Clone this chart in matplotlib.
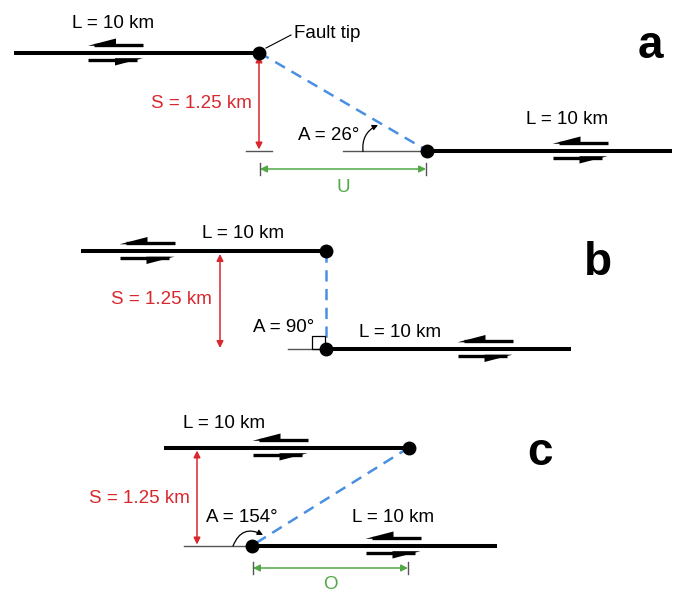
import matplotlib
matplotlib.use("Agg")
import matplotlib.pyplot as plt
from matplotlib.patches import Polygon, Rectangle, FancyArrowPatch

plt.rcParams['font.family'] = ['Liberation Sans', 'DejaVu Sans']

# ---- quantities shown in the three step-over configurations ----
panel_ids = ['a', 'b', 'c']
fault_length_km = [10, 10, 10]
separation_km = [1.25, 1.25, 1.25]
angle_deg = [26, 90, 154]
offset_names = ['U', '', 'O']

# ---- drawing scales (schematic, pixels) ----
PX_PER_KM_ALONG = 24.5     # along-strike scale for fault length
PX_PER_KM_ACROSS = 78.4    # exaggerated across-strike scale for separation

# layout of each panel: upper fault tip, horizontal offset to lower tip, etc.
layout = {
    'a': dict(tip=(259, 52.5), dx=168, s_x=259, s_tick=(246, 272),
              ref=(343, None), slip_up=115.5, slip_lo=580,
              lab_up=(113, 28), lab_lo=(567, 124), s_lab=(252, 108),
              a_lab=(298, 140), letter=(650, 58), off_y=169, off_lab_y=192),
    'b': dict(tip=(326, 251), dx=0, s_x=220, s_tick=None,
              ref=(288, None), slip_up=147, slip_lo=485,
              lab_up=(243, 238), lab_lo=(400, 337), s_lab=(212, 304),
              a_lab=(253, 332), letter=(598, 275), off_y=None, off_lab_y=None),
    'c': dict(tip=(409, 447.5), dx=-157, s_x=197, s_tick=None,
              ref=(184, None), slip_up=280, slip_lo=393,
              lab_up=(224, 428), lab_lo=(393, 522), s_lab=(190, 503),
              a_lab=(206, 522), letter=(540, 465), off_y=568, off_lab_y=589),
}

RED = '#d9272e'
GREEN = '#52a846'
BLUE = '#4a90e2'
GRAY = '#555555'
FS = 13.5

fig = plt.figure(figsize=(6.78, 5.92), dpi=100)
ax = fig.add_axes([0, 0, 1, 1])
ax.set_xlim(0, 678)
ax.set_ylim(592, 0)
ax.axis('off')


def slip_pair(xc, y):
    """Left-lateral half-arrows drawn above and below a fault trace."""
    half = 27.5
    head = 28
    yu, yl = y - 8, y + 7
    ax.plot([xc - half + 6, xc + half], [yu, yu], color='black', lw=2.4,
            solid_capstyle='butt', zorder=3)
    ax.add_patch(Polygon([(xc - half, yu + 1.3), (xc - half + head, yu - 6),
                          (xc - half + head, yu + 1.3)], closed=True,
                         fc='black', ec='none', zorder=3))
    ax.plot([xc - half, xc + half - 6], [yl, yl], color='black', lw=2.4,
            solid_capstyle='butt', zorder=3)
    ax.add_patch(Polygon([(xc + half, yl - 1.3), (xc + half - head, yl + 6),
                          (xc + half - head, yl - 1.3)], closed=True,
                         fc='black', ec='none', zorder=3))


for pid, L, S, A, off in zip(panel_ids, fault_length_km, separation_km,
                             angle_deg, offset_names):
    g = layout[pid]
    x1, y1 = g['tip']
    length_px = L * PX_PER_KM_ALONG
    sep_px = S * PX_PER_KM_ACROSS
    x2, y2 = x1 + g['dx'], y1 + sep_px

    # fault traces
    ax.plot([x1 - length_px, x1], [y1, y1], color='black', lw=2.9,
            solid_capstyle='butt', zorder=2)
    ax.plot([x2, x2 + length_px], [y2, y2], color='black', lw=2.9,
            solid_capstyle='butt', zorder=2)

    # reference line at lower level
    ax.plot([g['ref'][0], x2], [y2, y2], color=GRAY, lw=1.0, zorder=1)
    if g['s_tick'] is not None:
        ax.plot(g['s_tick'], [y2, y2], color=GRAY, lw=1.0, zorder=1)

    # tip-to-tip link
    ax.plot([x1, x2], [y1, y2], color=BLUE, lw=1.8, ls=(0, (4.5, 3)),
            zorder=1)

    # fault tips
    ax.plot([x1, x2], [y1, y2], 'o', color='black', ms=9, zorder=4)

    # slip sense
    slip_pair(g['slip_up'], y1)
    slip_pair(g['slip_lo'], y2)

    # length labels
    ax.text(*g['lab_up'], f'L = {L:g} km', fontsize=FS, ha='center',
            va='baseline')
    ax.text(*g['lab_lo'], f'L = {L:g} km', fontsize=FS, ha='center',
            va='baseline')

    # separation
    ax.add_patch(FancyArrowPatch((g['s_x'], y1 + 3), (g['s_x'], y2 - 1),
                                 arrowstyle='<|-|>', mutation_scale=10,
                                 color=RED, lw=1.1, shrinkA=0, shrinkB=0,
                                 zorder=2))
    ax.text(*g['s_lab'], f'S = {S:g} km', fontsize=FS, color=RED,
            ha='right', va='baseline')

    # angle annotation
    ax.text(*g['a_lab'], f'A = {A:g}°', fontsize=FS, ha='left',
            va='baseline')

    # panel letter
    ax.text(*g['letter'], pid, fontsize=33, fontweight='bold', ha='center',
            va='baseline')

    # along-strike offset between tips
    if off:
        oy = g['off_y']
        xa, xb = min(x1, x2), max(x1, x2)
        ax.add_patch(FancyArrowPatch((xa + 1, oy), (xb - 1, oy),
                                     arrowstyle='<|-|>', mutation_scale=10,
                                     color=GREEN, lw=1.1, shrinkA=0,
                                     shrinkB=0, zorder=2))
        for xt in (xa + 1, xb - 1):
            ax.plot([xt, xt], [oy - 6.5, oy + 6], color=GRAY, lw=1.0,
                    zorder=2)
        ax.text((xa + xb) / 2, g['off_lab_y'], off, fontsize=FS,
                color=GREEN, ha='center', va='baseline')

# angle marks
ax.add_patch(FancyArrowPatch((363, 151.5), (378, 125),
                             connectionstyle='arc3,rad=-0.35',
                             arrowstyle='-|>', mutation_scale=8,
                             color='black', lw=0.9, shrinkA=0, shrinkB=0))
ax.add_patch(Rectangle((312, 336), 13, 13, fill=False, ec='black', lw=0.9,
                       zorder=1))
ax.add_patch(FancyArrowPatch((233, 546), (263, 535),
                             connectionstyle='arc3,rad=-0.55',
                             arrowstyle='-|>', mutation_scale=8,
                             color='black', lw=0.9, shrinkA=0, shrinkB=0))

# tip callout
ax.plot([266, 291], [48, 35], color='black', lw=0.8)
ax.text(294, 38, 'Fault tip', fontsize=FS, ha='left', va='baseline')

fig.savefig('out.png', dpi=100)
